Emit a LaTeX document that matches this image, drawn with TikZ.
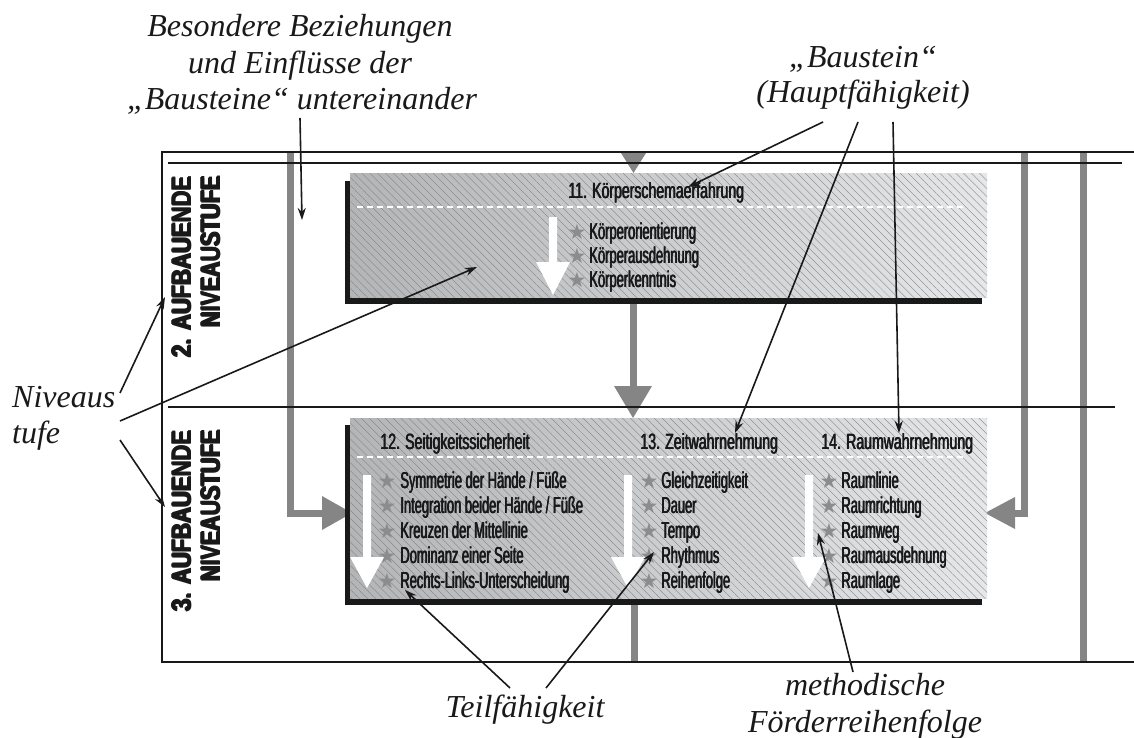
\documentclass[tikz,border=0pt]{standalone}
\usepackage{fontspec}
\setmainfont{Liberation Serif}
\newfontfamily\titlefont[FakeStretch=0.64]{Liberation Sans}
\newfontfamily\itemfont[FakeStretch=0.56]{Liberation Sans}
\newfontfamily\heavyfont{Liberation Sans Bold}
\newfontfamily\starfont{DejaVu Sans}
\usetikzlibrary{arrows.meta,patterns.meta}
\newcommand\heavytxt[1]{\rlap{\kern0.8pt #1}\rlap{\kern0.4pt\raisebox{0.35pt}{#1}}#1}
\newcommand\semitxt[1]{\rlap{\kern0.7pt #1}\rlap{\kern0.35pt #1}#1}
\definecolor{bargray}{RGB}{133,133,133}
\definecolor{boxL}{RGB}{180,181,183}
\definecolor{boxR}{RGB}{230,231,233}
\definecolor{hatchgray}{RGB}{128,128,130}
\definecolor{stargray}{RGB}{140,140,140}
\definecolor{inkblack}{RGB}{25,25,25}
\begin{document}
\begin{tikzpicture}[x=1pt,y=-1pt,
  frame/.style={line width=2pt,inkblack},
  bar/.style={line width=7pt,bargray},
  barhead/.style={fill=bargray},
  shadowbox/.style={fill=inkblack},
  whitearrow/.style={fill=white},
  hatch/.style={pattern={Lines[angle=-45,distance=5.6pt,line width=0.35pt]},pattern color=hatchgray},
  dashline/.style={white,line width=2pt,dash pattern=on 6pt off 4pt},
  ann/.style={font=\fontsize{32}{37}\selectfont\itshape,text=inkblack,inner sep=0pt},
  pointer/.style={line width=1.6pt,inkblack,-{Stealth[length=12pt,width=8pt]}},
  title/.style={font=\titlefont\fontsize{22}{24}\selectfont,text=inkblack,inner sep=0pt,anchor=base west},
  itemtext/.style={font=\itemfont\fontsize{23}{24}\selectfont,text=inkblack,inner sep=0pt,anchor=base west},
  starnode/.style={font=\starfont\fontsize{21}{21}\selectfont,text=stargray,inner sep=0pt,anchor=base},
  levellabel/.style={rotate=90,anchor=base east,inner sep=0pt,text=inkblack,font=\heavyfont}]
\useasboundingbox (0,0) rectangle (1134,738);

% grey connection bars
\draw[bar] (290,152) -- (290,513) -- (325,513);
\fill[barhead] (322,496) -- (352,513) -- (322,530) -- cycle;
\draw[bar] (1024,152) -- (1024,513) -- (1012,513);
\fill[barhead] (1015,497) -- (985,513) -- (1015,529) -- cycle;
\draw[bar] (1083,152) -- (1083,662);
\fill[barhead] (621,153) -- (646,153) -- (633.5,173) -- cycle;
\draw[bar] (633,300) -- (633,390);
\fill[barhead] (614,386) -- (652,386) -- (633,418) -- cycle;
\draw[bar] (634,600) -- (634,662);

% frame lines
\draw[frame] (1134,152) -- (162,152) -- (162,662) -- (1134,662);
\draw[frame] (168,163) -- (1122,163);
\draw[frame] (168,407) -- (1115,407);

% level labels
\node[levellabel] (lv2a) at (191,177) {\resizebox{181pt}{20pt}{\heavytxt{2. AUFBAUENDE}}};
\node[levellabel] (lv2b) at (220,177) {\resizebox{151pt}{20pt}{\heavytxt{NIVEAUSTUFE}}};
\node[levellabel] (lv3a) at (191,431) {\resizebox{181pt}{20pt}{\heavytxt{3. AUFBAUENDE}}};
\node[levellabel] (lv3b) at (220,431) {\resizebox{151pt}{20pt}{\heavytxt{NIVEAUSTUFE}}};

% box 11
\fill[shadowbox] (345,181) rectangle (982,304);
\shade[left color=boxL,right color=boxR] (350,174) rectangle (987,297);
\fill[hatch] (350,174) rectangle (987,297);
\draw[dashline] (357,207) -- (965,207);
\node[title] (t11) at (568,198) {\semitxt{11. Körperschemaerfahrung}};
\foreach \t [count=\i] in {Körperorientierung,Körperausdehnung,Körperkenntnis}{
  \node[starnode] (s11-\i) at (577,{239+24*(\i-1)}) {★};
  \node[itemtext] (i11-\i) at (589,{239+24*(\i-1)}) {\semitxt{\t}};
}
\fill[whitearrow] (549,217) -- (557,217) -- (557,262) -- (570,262) -- (553,295) -- (536,262) -- (549,262) -- cycle;

% box 12-14
\fill[shadowbox] (345,425) rectangle (982,605);
\shade[left color=boxL,right color=boxR] (350,418) rectangle (987,598);
\fill[hatch] (350,418) rectangle (987,598);
\draw[dashline] (357,457) -- (965,457);
\node[title] (t12) at (380,449) {\semitxt{12. Seitigkeitssicherheit}};
\node[title] (t13) at (640,449) {\semitxt{13. Zeitwahrnehmung}};
\node[title] (t14) at (821,449) {\semitxt{14. Raumwahrnehmung}};
\foreach \t [count=\i] in {Symmetrie der Hände / Füße,Integration beider Hände / Füße,Kreuzen der Mittellinie,Dominanz einer Seite,Rechts-Links-Unterscheidung}{
  \node[starnode] (s12-\i) at (387,{488+25*(\i-1)}) {★};
  \node[itemtext] (i12-\i) at (400,{488+25*(\i-1)}) {\semitxt{\t}};
}
\foreach \t [count=\i] in {Gleichzeitigkeit,Dauer,Tempo,Rhythmus,Reihenfolge}{
  \node[starnode] (s13-\i) at (649,{488+25*(\i-1)}) {★};
  \node[itemtext] (i13-\i) at (661,{488+25*(\i-1)}) {\semitxt{\t}};
}
\foreach \t [count=\i] in {Raumlinie,Raumrichtung,Raumweg,Raumausdehnung,Raumlage}{
  \node[starnode] (s14-\i) at (829,{488+25*(\i-1)}) {★};
  \node[itemtext] (i14-\i) at (841,{488+25*(\i-1)}) {\semitxt{\t}};
}
\foreach \c in {367,628,809}{
  \fill[whitearrow] (\c-4,475) -- (\c+4,475) -- (\c+4,557) -- (\c+17,557) -- (\c,588) -- (\c-17,557) -- (\c-4,557) -- cycle;
}

% annotation texts
\node[ann,anchor=base] (b1) at (300,37) {Besondere Beziehungen};
\node[ann,anchor=base] (b2) at (300,74) {und Einflüsse der};
\node[ann,anchor=base] (b3) at (302,110) {„Bausteine“ untereinander};
\node[ann,anchor=base] (h1) at (863,68) {„Baustein“};
\node[ann,anchor=base] (h2) at (863,103) {(Hauptfähigkeit)};
\node[ann,anchor=base west] (n1) at (12,407) {Niveaus};
\node[ann,anchor=base west] (n2) at (12,443) {tufe};
\node[ann,anchor=base] (tf) at (525,717) {Teilfähigkeit};
\node[ann,anchor=base] (m1) at (865,695) {methodische};
\node[ann,anchor=base] (m2) at (865,732) {Förderreihenfolge};

% pointer coordinates
\coordinate (pb) at (300,118);   \coordinate (qb) at (302,220);
\coordinate (ph1) at (823,122);  \coordinate (qh1) at (688,187);
\coordinate (ph2) at (858,122);  \coordinate (qh2) at (735,433);
\coordinate (ph3) at (893,122);  \coordinate (qh3) at (899,433);
\coordinate (pn1) at (120,393);  \coordinate (qn1) at (165,297);
\coordinate (pn2) at (120,421);  \coordinate (qn2) at (477,267);
\coordinate (pn3) at (120,440);  \coordinate (qn3) at (165,507);
\coordinate (pt1) at (510,688);  \coordinate (qt1) at (405,590);
\coordinate (pt2) at (546,688);  \coordinate (qt2) at (654,552);
\coordinate (pm) at (853,672);   \coordinate (qm) at (818,533);

\draw[pointer] (pb) -- (qb);
\draw[pointer] (ph1) -- (qh1);
\draw[pointer] (ph2) -- (qh2);
\draw[pointer] (ph3) -- (qh3);
\draw[pointer] (pn1) -- (qn1);
\draw[pointer] (pn2) -- (qn2);
\draw[pointer] (pn3) -- (qn3);
\draw[pointer] (pt1) -- (qt1);
\draw[pointer] (pt2) -- (qt2);
\draw[pointer] (pm) -- (qm);
\end{tikzpicture}
\end{document}
